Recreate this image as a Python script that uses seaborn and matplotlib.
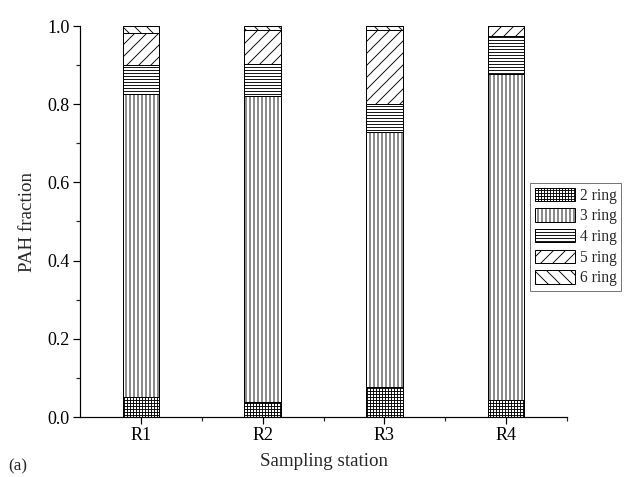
import matplotlib
matplotlib.use("Agg")
import matplotlib.pyplot as plt
import seaborn as sns
import pandas as pd
import numpy as np
from matplotlib.patches import Patch
from matplotlib.ticker import MultipleLocator, FixedLocator

stations = ["R1", "R2", "R3", "R4"]
ring_labels = ["2 ring", "3 ring", "4 ring", "5 ring", "6 ring"]
ring2 = [0.050, 0.038, 0.076, 0.043]
ring3 = [0.775, 0.782, 0.652, 0.835]
ring4 = [0.075, 0.082, 0.072, 0.097]
ring5 = [0.083, 0.088, 0.190, 0.025]
ring6 = [0.017, 0.010, 0.010, 0.000]
hatches = ["++++", "|||", "----", "//", "\\\\"]

series = [ring2, ring3, ring4, ring5, ring6]
cum = np.cumsum(np.array(series), axis=0)

sns.set_style("ticks")
plt.rcParams["font.family"] = ["Liberation Serif", "DejaVu Serif"]
plt.rcParams["hatch.linewidth"] = 0.9

fig = plt.figure(figsize=(628 / 72, 477 / 72), dpi=72)
ax = fig.add_axes([80 / 628, 1 - 417 / 477, (567 - 80) / 628, (417 - 26) / 477])

# draw cumulative totals from top layer down so each lower layer overdraws
for i in range(len(series) - 1, -1, -1):
    df = pd.DataFrame({"station": stations, "value": cum[i]})
    sns.barplot(data=df, x="station", y="value", ax=ax, width=0.3,
                color="white", edgecolor="black", linewidth=1.0,
                hatch=hatches[i], errorbar=None, saturation=1)

ax.set_xlim(-0.5, 3.5)
ax.set_ylim(0, 1.0)
ax.yaxis.set_minor_locator(MultipleLocator(0.1))
ax.set_yticks([0.0, 0.2, 0.4, 0.6, 0.8, 1.0])
ax.set_yticklabels(["0.0", "0.2", "0.4", "0.6", "0.8", "1.0"])
ax.xaxis.set_minor_locator(FixedLocator([0.5, 1.5, 2.5, 3.5]))
ax.tick_params(axis="both", which="major", length=7, width=1.2, direction="out",
               labelsize=18, colors="black")
ax.tick_params(axis="both", which="minor", length=4, width=1.2, direction="out")
for s in ["top", "right"]:
    ax.spines[s].set_visible(False)
for s in ["left", "bottom"]:
    ax.spines[s].set_linewidth(1.2)
    ax.spines[s].set_color("black")

ax.set_xlabel("Sampling station", fontsize=19, labelpad=9)
ax.set_ylabel("PAH fraction", fontsize=19, labelpad=11)

handles = [Patch(facecolor="white", edgecolor="black", hatch=h, linewidth=1.0)
           for h in hatches]
fig.legend(handles, ring_labels, loc="upper left",
           bbox_to_anchor=(530 / 628, 1 - 183 / 477), fontsize=15.5,
           frameon=True, fancybox=False, edgecolor="#555555",
           handlelength=2.6, handleheight=0.95, labelspacing=0.3,
           handletextpad=0.3, borderpad=0.3, borderaxespad=0)

fig.text(8 / 628, 1 - 470 / 477, "(a)", fontsize=17)

fig.savefig("out.png", dpi=72)
